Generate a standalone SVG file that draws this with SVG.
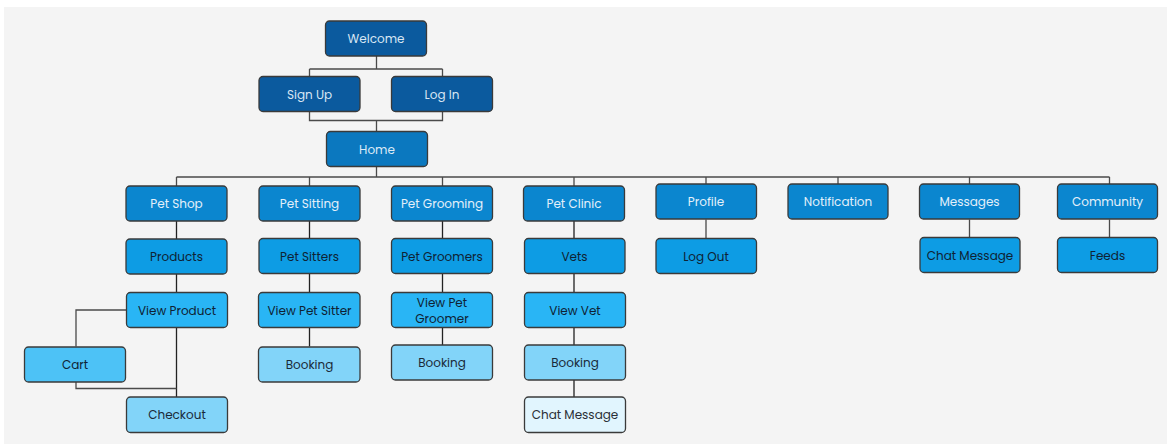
<svg xmlns="http://www.w3.org/2000/svg" width="1167" height="444" viewBox="0 0 1167 444">
<style>
.n rect{stroke:#3a3a3a;stroke-width:1.3;}
.n text{font-family:Poppins,Inter,"Noto Sans","Liberation Sans",sans-serif;font-size:12px;text-anchor:middle;dominant-baseline:central;}
.d1 rect{fill:#0b5a9e;} .d1 text{fill:#d8e6f4;}
.d2 rect{fill:#0b78bf;} .d2 text{fill:#dceaf6;}
.d3 rect{fill:#0b86cf;} .d3 text{fill:#e4f0fa;}
.d4 rect{fill:#0d9ce4;} .d4 text{fill:#0f2233;}
.d5 rect{fill:#29b5f5;} .d5 text{fill:#0f2233;}
.d6 rect{fill:#4dc2f6;} .d6 text{fill:#0f2233;}
.d7 rect{fill:#82d4f9;} .d7 text{fill:#1a2a38;}
.d8 rect{fill:#e1f5fe;} .d8 text{fill:#2a2f36;}
.c path{fill:none;stroke:#4a4a4a;stroke-width:1.3;}
.c .k{stroke:#222;}
</style>
<rect x="0" y="0" width="1167" height="444" fill="#ffffff"/>
<rect x="4" y="7" width="1163" height="437" fill="#f4f4f4"/>
<g class="c" id="connectors">
<path d="M376.5 56V69M309.5 69H442.5M309.5 69V76M442.5 69V76"/>
<path d="M309.5 111V120.5H442.5V111M376.5 120.5V131"/>
<path d="M376.5 166V177M176.5 177H1109.5"/>
<path d="M176.5 177V186M309.5 177V186M442.5 177V186M574 177V186M706 177V184M838 177V184M969.5 177V184M1109.5 177V184"/>
<path class="k" d="M176.5 221V239M176.5 274V292M176.5 327.5V397"/>
<path class="k" d="M309.5 221V238.5M309.5 273V292M309.5 327.5V346.5"/>
<path class="k" d="M442.5 221V238.5M442.5 273V292M442.5 327.5V345"/>
<path class="k" d="M574 221V238.5M574 273V292M574 327.5V345M574 380V397"/>
<path d="M706 219.5V238.5M969.5 219.5V237.5M1109.5 219.5V237.5"/>
<path d="M126.5 310H76V346.5M76 381.5V388.5H176.5"/>
</g>
<g class="n d1" id="welcome"><rect x="325.5" y="21" width="101" height="35" rx="4"/><text x="376" y="38.5">Welcome</text></g>
<g class="n d1" id="signup"><rect x="259" y="76.5" width="101" height="35" rx="4"/><text x="309.5" y="94">Sign Up</text></g>
<g class="n d1" id="login"><rect x="391.5" y="76.5" width="101" height="35" rx="4"/><text x="442" y="94">Log In</text></g>
<g class="n d2" id="home"><rect x="326.5" y="131.5" width="101" height="35" rx="4"/><text x="377" y="149">Home</text></g>
<g class="n d3" id="petshop"><rect x="126" y="186" width="101" height="35" rx="4"/><text x="176.5" y="203.5">Pet Shop</text></g>
<g class="n d3" id="petsitting"><rect x="259" y="186" width="101" height="35" rx="4"/><text x="309.5" y="203.5">Pet Sitting</text></g>
<g class="n d3" id="petgrooming"><rect x="391.5" y="186" width="101" height="35" rx="4"/><text x="442" y="203.5">Pet Grooming</text></g>
<g class="n d3" id="petclinic"><rect x="523.5" y="186" width="101" height="35" rx="4"/><text x="574" y="203.5">Pet Clinic</text></g>
<g class="n d3" id="profile"><rect x="656" y="184" width="100.5" height="35" rx="4"/><text x="706" y="201.5">Profile</text></g>
<g class="n d3" id="notification"><rect x="788" y="184" width="100" height="35" rx="4"/><text x="838" y="201.5">Notification</text></g>
<g class="n d3" id="messages"><rect x="919.5" y="184" width="100" height="35" rx="4"/><text x="969.5" y="201.5">Messages</text></g>
<g class="n d3" id="community"><rect x="1057.5" y="184" width="100" height="35" rx="4"/><text x="1107.5" y="201.5">Community</text></g>
<g class="n d4" id="products"><rect x="126" y="239" width="101" height="35" rx="4"/><text x="176.5" y="256.5">Products</text></g>
<g class="n d4" id="petsitters"><rect x="259" y="238.5" width="101" height="35" rx="4"/><text x="309.5" y="256">Pet Sitters</text></g>
<g class="n d4" id="petgroomers"><rect x="391.5" y="238.5" width="101" height="35" rx="4"/><text x="442" y="256">Pet Groomers</text></g>
<g class="n d4" id="vets"><rect x="524.5" y="238.5" width="100.5" height="35" rx="4"/><text x="574.5" y="256">Vets</text></g>
<g class="n d4" id="logout"><rect x="656" y="238.5" width="100.5" height="35" rx="4"/><text x="706" y="256">Log Out</text></g>
<g class="n d4" id="chatmessage1"><rect x="920" y="237.5" width="100" height="35" rx="4"/><text x="970" y="255">Chat Message</text></g>
<g class="n d4" id="feeds"><rect x="1057.5" y="237.5" width="100" height="35" rx="4"/><text x="1107.5" y="255">Feeds</text></g>
<g class="n d5" id="viewproduct"><rect x="126.5" y="292.5" width="101" height="35" rx="4"/><text x="177" y="310">View Product</text></g>
<g class="n d5" id="viewpetsitter"><rect x="258.5" y="292.5" width="101.5" height="35" rx="4"/><text x="309.5" y="310">View Pet Sitter</text></g>
<g class="n d5" id="viewpetgroomer"><rect x="391.5" y="292.5" width="101" height="35" rx="4"/><text x="442" y="302">View Pet</text><text x="442" y="318">Groomer</text></g>
<g class="n d5" id="viewvet"><rect x="524.5" y="292.5" width="101" height="35" rx="4"/><text x="575" y="310">View Vet</text></g>
<g class="n d6" id="cart"><rect x="24.5" y="347" width="101" height="35" rx="4"/><text x="75" y="364.5">Cart</text></g>
<g class="n d7" id="booking1"><rect x="258.5" y="347" width="101.5" height="35" rx="4"/><text x="309.5" y="364.5">Booking</text></g>
<g class="n d7" id="booking2"><rect x="391.5" y="345" width="101" height="35" rx="4"/><text x="442" y="362.5">Booking</text></g>
<g class="n d7" id="booking3"><rect x="524.5" y="345" width="101" height="35" rx="4"/><text x="575" y="362.5">Booking</text></g>
<g class="n d7" id="checkout"><rect x="126.5" y="397" width="101" height="35.5" rx="4"/><text x="177" y="414.5">Checkout</text></g>
<g class="n d8" id="chatmessage2"><rect x="524.5" y="397" width="101" height="35.5" rx="4"/><text x="575" y="414.5">Chat Message</text></g>
</svg>
